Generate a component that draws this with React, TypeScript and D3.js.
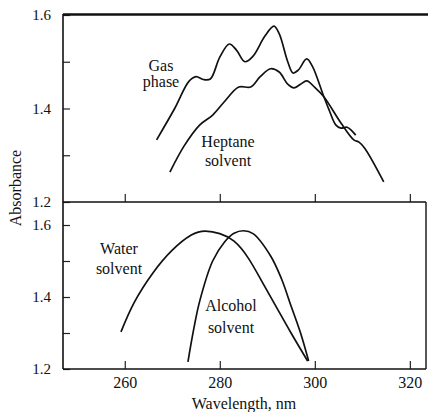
import React, { useRef, useEffect } from "react";
import * as d3 from "d3";

type Pt = [number, number];

// wavelength (nm), absorbance
const gasPhase: Pt[] = [
  [266.7, 1.333], [270.5, 1.4], [273.5, 1.458], [275, 1.468], [276.5, 1.462],
  [278, 1.463], [280, 1.51], [282, 1.538], [283.5, 1.525], [285.3, 1.5],
  [287, 1.512], [289.5, 1.555], [291.4, 1.576], [292.5, 1.56], [294.3, 1.5],
  [295.4, 1.476], [296.5, 1.482], [298.3, 1.506], [299.5, 1.49], [301.9, 1.425],
  [303, 1.397], [304.4, 1.365], [305.5, 1.358], [306.8, 1.36], [307.8, 1.352],
  [308.6, 1.343],
];
const heptane: Pt[] = [
  [269.5, 1.264], [272.5, 1.32], [275.8, 1.365], [278.5, 1.386], [281, 1.415],
  [284, 1.446], [286.5, 1.446], [288.5, 1.468], [290.7, 1.485], [292.5, 1.478],
  [294.3, 1.452], [295.6, 1.444], [297, 1.452], [298.3, 1.459], [300, 1.445],
  [301.9, 1.425], [305.5, 1.369], [308.2, 1.333], [309.3, 1.328], [310.5, 1.315],
  [314.5, 1.243],
];
const water: Pt[] = [
  [259.2, 1.303], [262, 1.385], [266, 1.468], [270, 1.53], [274, 1.572],
  [277, 1.583], [280, 1.576], [283, 1.555], [286, 1.508], [289, 1.44],
  [292, 1.37], [295, 1.3], [298.5, 1.222],
];
const alcohol: Pt[] = [
  [273.3, 1.22], [274.5, 1.31], [275.8, 1.39], [278.5, 1.5], [281, 1.553],
  [283, 1.577], [285, 1.584], [287, 1.576], [290.7, 1.514], [293, 1.45],
  [295, 1.375], [297, 1.3], [298.7, 1.222],
];

const xTicks = [260, 280, 300, 320];
const yTicks = [1.2, 1.3, 1.4, 1.5, 1.6];
const yLabels = [1.2, 1.4, 1.6];

const font = "Liberation Serif, Times New Roman, DejaVu Serif, serif";

const App: React.FC = () => {
  const svgRef = useRef<SVGSVGElement>(null);

  useEffect(() => {
    if (!svgRef.current) return;
    const svg = d3.select(svgRef.current);
    svg.selectAll("*").remove();

    const left = 63;
    const right = 426;

    const x = d3.scaleLinear().domain([247, 323.4]).range([left, right]);
    const yTop = d3.scaleLinear().domain([1.2, 1.6]).range([202, 15]);
    const yBot = d3.scaleLinear().domain([1.2, 1.6]).range([369, 225]);

    const panel = (y: d3.ScaleLinear<number, number>, bottom: number, showX: boolean) => {
      const g = svg.append("g");
      const ya = g.append("g")
        .attr("transform", `translate(${left},0)`)
        .call(d3.axisLeft(y).tickValues(yTicks).tickSizeInner(-7).tickSizeOuter(0)
          .tickFormat((d) => (yLabels.some((v) => Math.abs(v - +d) < 1e-6) ? d3.format(".1f")(+d) : "")));
      ya.attr("font-family", null);
      ya.select(".domain").remove();
      ya.selectAll("text").attr("x", -12).style("font-family", font).attr("font-size", 15).attr("fill", "#111");
      ya.selectAll("line").attr("stroke", "#222").attr("stroke-width", 1.2);

      const xa = g.append("g")
        .attr("transform", `translate(0,${bottom})`)
        .call(d3.axisBottom(x).tickValues(xTicks).tickSizeInner(-8).tickSizeOuter(0)
          .tickFormat((d) => (showX ? String(d) : "")));
      xa.attr("font-family", null);
      xa.select(".domain").remove();
      xa.selectAll("text").attr("y", 8).style("font-family", font).attr("font-size", 16).attr("fill", "#111");
      xa.selectAll("line").attr("stroke", "#222").attr("stroke-width", 1.2);

      g.append("line").attr("x1", left).attr("x2", right).attr("y1", bottom).attr("y2", bottom)
        .attr("stroke", "#111").attr("stroke-width", 1.6);
    };

    panel(yTop, 202, false);
    panel(yBot, 369, true);

    // frame
    svg.append("line").attr("x1", left).attr("x2", left).attr("y1", 14).attr("y2", 369)
      .attr("stroke", "#111").attr("stroke-width", 1.6);
    svg.append("line").attr("x1", left).attr("x2", 428).attr("y1", 14.5).attr("y2", 14.5)
      .attr("stroke", "#111").attr("stroke-width", 2.6);
    svg.append("line").attr("x1", right).attr("x2", right).attr("y1", 202).attr("y2", 369)
      .attr("stroke", "#111").attr("stroke-width", 1.4);

    const draw = (data: Pt[], y: d3.ScaleLinear<number, number>, curve: d3.CurveFactory) => {
      const line = d3.line<Pt>().x((d) => x(d[0])).y((d) => y(d[1])).curve(curve);
      svg.append("path").datum(data).attr("fill", "none").attr("stroke", "#111")
        .attr("stroke-width", 1.7).attr("d", line);
    };
    draw(gasPhase, yTop, d3.curveCatmullRom);
    draw(heptane, yTop, d3.curveCatmullRom);
    draw(water, yBot, d3.curveNatural);
    draw(alcohol, yBot, d3.curveCatmullRom);

    const label = (lines: string[], cx: number, y0: number, dy: number) => {
      lines.forEach((t, i) => {
        svg.append("text").attr("x", cx).attr("y", y0 + i * dy).attr("text-anchor", "middle")
          .style("font-family", font).attr("font-size", 16).attr("fill", "#111").text(t);
      });
    };
    label(["Gas", "phase"], 161, 71, 16);
    label(["Heptane", "solvent"], 228, 147, 19);
    label(["Water", "solvent"], 119, 254, 20);
    label(["Alcohol", "solvent"], 231, 311, 22);

    svg.append("text").attr("x", 244).attr("y", 409).attr("text-anchor", "middle")
      .style("font-family", font).attr("font-size", 16).attr("fill", "#111").text("Wavelength, nm");
    svg.append("text").attr("transform", "translate(21,188) rotate(-90)").attr("text-anchor", "middle")
      .style("font-family", font).attr("font-size", 16).attr("fill", "#111").text("Absorbance");
  }, []);

  return (
    <svg ref={svgRef} width={428} height={412}
      style={{ position: "absolute", left: 0, top: 0, background: "#fff" }} />
  );
};

export default App;
